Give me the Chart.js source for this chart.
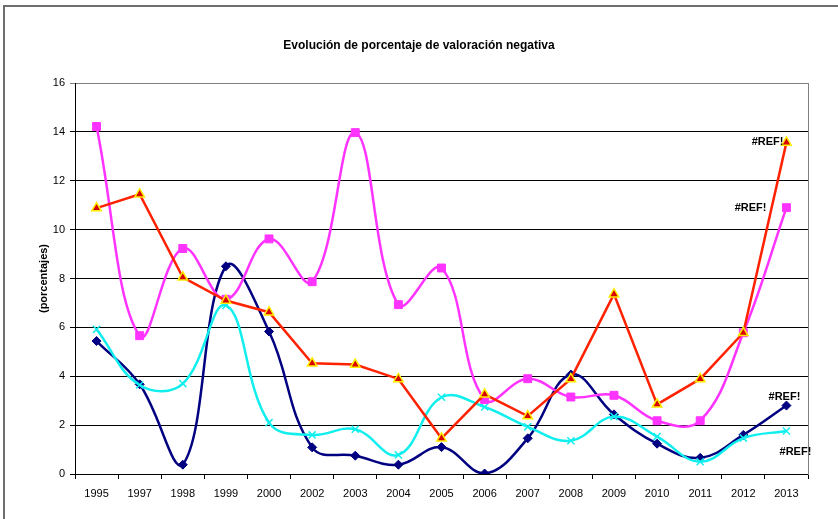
<!DOCTYPE html>
<html>
<head>
<meta charset="utf-8">
<script src="https://cdn.jsdelivr.net/npm/chart.js@4"></script>
<style>
  html, body { margin: 0; padding: 0; background: #fff; }
  canvas { display: block; }
</style>
</head>
<body>
<canvas id="grafico" width="838" height="519"></canvas>
<script>
// Años de la serie (1996 y 2001 no tienen dato)
const anios = ['1995','1997','1998','1999','2000','2002','2003','2004','2005','2006','2007','2008','2009','2010','2011','2012','2013'];

// Porcentajes de valoración negativa por serie
const serieAzul  = [5.44, 3.67, 0.38, 8.5, 5.83, 1.09, 0.75, 0.38, 1.1, 0.02, 1.46, 4.07, 2.44, 1.24, 0.66, 1.6, 2.8];
const serieRosa  = [14.22, 5.66, 9.23, 7.15, 9.62, 7.87, 13.97, 6.93, 8.43, 3.05, 3.9, 3.15, 3.22, 2.18, 2.18, 5.78, 10.9];
const serieRoja  = [10.88, 11.45, 8.05, 7.1, 6.62, 4.53, 4.48, 3.89, 1.46, 3.26, 2.37, 3.89, 7.36, 2.85, 3.89, 5.78, 13.57];
const serieCian  = [5.92, 3.64, 3.7, 6.9, 2.1, 1.6, 1.83, 0.78, 3.14, 2.74, 1.93, 1.36, 2.35, 1.53, 0.5, 1.47, 1.76];

// Eje vertical
const yMin = 0, yMax = 16, yPaso = 2;

// Etiqueta que muestra el último punto de cada serie
const etiquetaFinal = '#REF!';

const FUENTE = "'Liberation Sans', Arial, Helvetica, sans-serif";

// Marco gris del área del gráfico
const marco = {
  id: 'marco',
  beforeDraw(chart) {
    const ctx = chart.ctx;
    ctx.save();
    ctx.fillStyle = '#fff';
    ctx.fillRect(0, 0, chart.width, chart.height);
    ctx.strokeStyle = '#6e6e6e';
    ctx.lineWidth = 2;
    ctx.beginPath();
    ctx.moveTo(4, chart.height);
    ctx.lineTo(4, 6);
    ctx.lineTo(chart.width, 6);
    ctx.stroke();
    ctx.restore();
  }
};

// Rótulo junto al último punto de cada serie
const rotulos = {
  id: 'rotulos',
  afterDatasetsDraw(chart, args, opts) {
    const ctx = chart.ctx;
    ctx.save();
    ctx.font = 'bold 11px ' + FUENTE;
    ctx.fillStyle = '#000';
    ctx.textBaseline = 'middle';
    chart.data.datasets.forEach((ds, i) => {
      const meta = chart.getDatasetMeta(i);
      const p = meta.data[meta.data.length - 1];
      const o = opts.desplazamientos[i];
      ctx.textAlign = o.align;
      ctx.fillText(ds.rotulo, p.x + o.dx, p.y + o.dy);
    });
    ctx.restore();
  }
};

new Chart(document.getElementById('grafico'), {
  type: 'line',
  data: {
    labels: anios,
    datasets: [
      {
        label: 'Serie 1',
        data: serieAzul,
        rotulo: etiquetaFinal,
        borderColor: '#000080',
        backgroundColor: '#000080',
        borderWidth: 2.5,
        tension: 0.4,
        pointStyle: 'rectRot',
        pointRadius: 4.5,
        pointBorderWidth: 1,
        pointBorderColor: '#000080',
        pointBackgroundColor: '#000080',
        order: 3
      },
      {
        label: 'Serie 2',
        data: serieRosa,
        rotulo: etiquetaFinal,
        borderColor: '#FF33FF',
        backgroundColor: '#FF33FF',
        borderWidth: 2.5,
        tension: 0.4,
        pointStyle: 'rect',
        pointRadius: 5.6,
        pointBorderWidth: 1,
        pointBorderColor: '#FF33FF',
        pointBackgroundColor: '#FF33FF',
        order: 1
      },
      {
        label: 'Serie 3',
        data: serieRoja,
        rotulo: etiquetaFinal,
        borderColor: '#FF2200',
        backgroundColor: '#D80000',
        borderWidth: 2.5,
        tension: 0,
        pointStyle: 'triangle',
        pointRadius: 5.5,
        pointBorderWidth: 1.5,
        pointBorderColor: '#FFEE00',
        pointBackgroundColor: '#D80000',
        order: 0
      },
      {
        label: 'Serie 4',
        data: serieCian,
        rotulo: etiquetaFinal,
        borderColor: '#11EEEE',
        backgroundColor: '#11EEEE',
        borderWidth: 2.5,
        tension: 0.4,
        pointStyle: 'crossRot',
        pointRadius: 5,
        pointBorderWidth: 1.5,
        pointBorderColor: '#11EEEE',
        order: 2
      }
    ]
  },
  options: {
    responsive: false,
    animation: false,
    devicePixelRatio: 1,
    layout: { padding: 0 },
    plugins: {
      legend: { display: false },
      tooltip: { enabled: false },
      title: {
        display: true,
        text: 'Evolución de porcentaje de valoración negativa',
        color: '#000',
        font: { family: FUENTE, size: 12, weight: 'bold', lineHeight: 1.2 },
        padding: { top: 38, bottom: 30.6 }
      },
      rotulos: {
        desplazamientos: [
          { dx: -2, dy: -9, align: 'center' },
          { dx: -20, dy: 0, align: 'right' },
          { dx: -3, dy: 0, align: 'right' },
          { dx: 9, dy: 21, align: 'center' }
        ]
      }
    },
    scales: {
      x: {
        type: 'category',
        offset: true,
        grid: { offset: true, drawOnChartArea: false, drawTicks: true, tickLength: 5, color: '#000', lineWidth: 1 },
        border: { color: '#000', width: 1 },
        ticks: { color: '#000', font: { family: FUENTE, size: 11 }, padding: 8, maxRotation: 0, autoSkip: false },
        afterFit(s) { s.height = 45; }
      },
      y: {
        min: yMin,
        max: yMax,
        ticks: { stepSize: yPaso, color: '#000', font: { family: FUENTE, size: 11 }, padding: 5 },
        grid: {
          color: c => (c.tick && c.tick.value === yMax) ? '#808080' : '#000',
          lineWidth: 1,
          tickLength: 5
        },
        border: { color: '#000', width: 1 },
        title: {
          display: true,
          text: '(porcentajes)',
          color: '#000',
          font: { family: FUENTE, size: 11, weight: 'bold', lineHeight: 1.2 },
          padding: { top: 37.4, bottom: 0 }
        },
        afterFit(s) { s.width = 75; }
      },
      yDer: {
        position: 'right',
        min: yMin,
        max: yMax,
        ticks: { display: false },
        grid: { drawOnChartArea: false, drawTicks: false },
        border: { color: '#808080', width: 1 },
        afterFit(s) { s.width = 30; }
      }
    }
  },
  plugins: [marco, rotulos]
});
</script>
</body>
</html>
